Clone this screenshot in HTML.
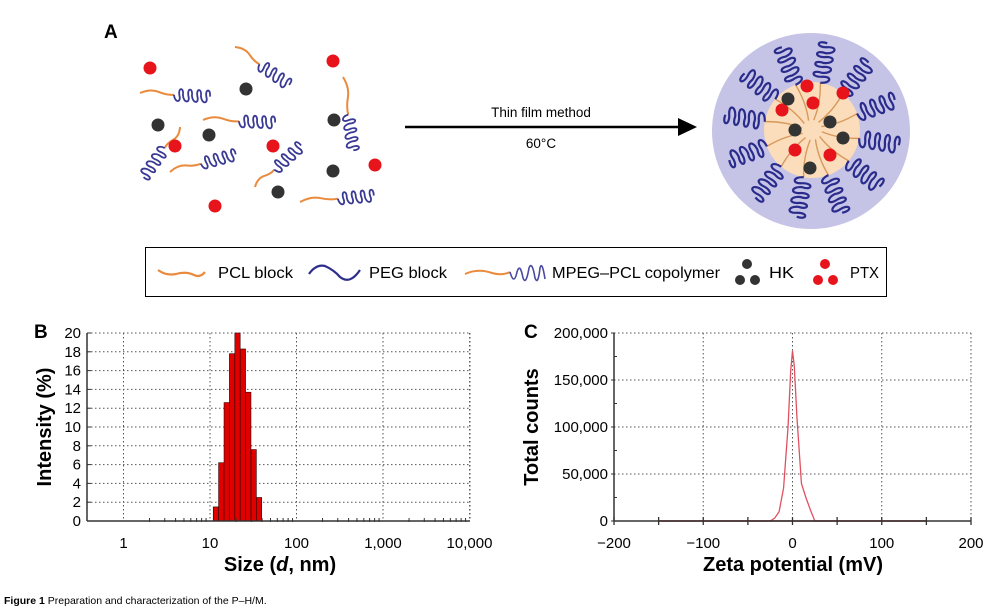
<!DOCTYPE html>
<html><head><meta charset="utf-8"><style>
body{margin:0;background:#fff;}
svg{display:block;font-family:"Liberation Sans",Arial,sans-serif;}
</style></head><body>
<svg id="fig" width="990" height="612" viewBox="0 0 990 612" xmlns="http://www.w3.org/2000/svg">
<g id="panelA">
<text x="104" y="38" font-size="19" font-weight="bold">A</text>
<g id="freeMol"></g>
<g>
<line x1="405" y1="127" x2="680" y2="127" stroke="#000" stroke-width="2.5"/>
<polygon points="678,118 697,127 678,136" fill="#000"/>
<text x="541" y="117" font-size="13.5" text-anchor="middle">Thin film method</text>
<text x="541" y="148" font-size="13.5" text-anchor="middle">60°C</text>
</g>
<g id="micelle">
<ellipse cx="811" cy="131" rx="99" ry="98" fill="#c5c3e6"/>
<circle cx="812" cy="130" r="48" fill="#fbdcbb"/>
</g>
<g>
<rect x="145.5" y="247.5" width="741" height="49" fill="#fff" stroke="#000" stroke-width="1"/>
<path d="M158 270 Q166 276 176 274 Q186 271 194 275 Q200 278 205 272" fill="none" stroke="#e98a3c" stroke-width="2.2"/>
<text x="218" y="278" font-size="16" textLength="75" lengthAdjust="spacingAndGlyphs">PCL block</text>
<path d="M309 274 Q316 264 325 266 Q334 270 340 277 Q350 285 360 270" fill="none" stroke="#2e2f8c" stroke-width="2.2"/>
<text x="369" y="278" font-size="16" textLength="78" lengthAdjust="spacingAndGlyphs">PEG block</text>
<path d="M465 274 Q478 268 492 273 Q502 276 510 272" fill="none" stroke="#e98a3c" stroke-width="2"/>
<path d="M510 272 Q514 286 517 272 Q520 262 523 278 Q526 286 529 268 Q532 260 535 278 Q538 286 540 268 Q542 260 545 279" fill="none" stroke="#4a4aa0" stroke-width="1.6"/>
<text x="552" y="278" font-size="16" textLength="168" lengthAdjust="spacingAndGlyphs">MPEG–PCL copolymer</text>
<g fill="#333"><circle cx="747" cy="264" r="5"/><circle cx="740" cy="280" r="5"/><circle cx="755" cy="280" r="5"/></g>
<text x="769" y="278" font-size="16" textLength="25" lengthAdjust="spacingAndGlyphs">HK</text>
<g fill="#e8141c"><circle cx="825" cy="264" r="5"/><circle cx="818" cy="280" r="5"/><circle cx="833" cy="280" r="5"/></g>
<text x="850" y="278" font-size="16" textLength="29" lengthAdjust="spacingAndGlyphs">PTX</text>
</g>
</g>
<g id="panelB">
<text x="34" y="338" font-size="19" font-weight="bold">B</text>
<g id="gridB"></g><g id="barsB"></g><g id="axesB"></g>
<text transform="translate(51,427) rotate(-90)" font-size="20" font-weight="bold" text-anchor="middle">Intensity (%)</text>
<text x="280" y="571" font-size="20" font-weight="bold" text-anchor="middle">Size (<tspan font-style="italic">d</tspan>, nm)</text>
</g>
<g id="panelC">
<text x="524" y="338" font-size="19" font-weight="bold">C</text>
<g id="gridC"></g><g id="lineC"></g><g id="axesC"></g>
<text transform="translate(538,427) rotate(-90)" font-size="20" font-weight="bold" text-anchor="middle">Total counts</text>
<text x="793" y="571" font-size="20" font-weight="bold" text-anchor="middle">Zeta potential (mV)</text>
</g>
<text x="4" y="604" font-size="10.5"><tspan font-weight="bold">Figure 1</tspan> Preparation and characterization of the P–H/M.</text>
</svg>
<script>
// Panel B data
const sizeBins=[11.7,13.5,15.6,18.0,20.8,24.0,27.7,32.0,36.9];
const intensity=[1.5,6.2,12.6,17.8,20,18.3,13.7,7.6,2.5];
const bTicksY=[0,2,4,6,8,10,12,14,16,18,20];
const bTicksX=[1,10,100,1000,10000];
const bTickLabels=["1","10","100","1,000","10,000"];
// Panel C data
const zetaX=[-150,-25,-20,-15,-10,-5,-2,0,2,5,10,15,20,25,150];
const zetaCounts=[0,0,3000,10000,35000,100000,160000,181000,165000,110000,40000,25000,12000,0,0];
const cTicksY=[0,50000,100000,150000,200000];
const cTickLabelsY=["0","50,000","100,000","150,000","200,000"];
const cTicksX=[-200,-100,0,100,200];
const cTickLabelsX=["\u2212200","\u2212100","0","100","200"];

const NS="http://www.w3.org/2000/svg";
function mk(tag,attrs,parent){const e=document.createElementNS(NS,tag);for(const k in attrs)e.setAttribute(k,attrs[k]);parent.appendChild(e);return e;}

// Panel B
const bL=87,bR=470,bT=333,bB=521;
const xB=v=>210+86.5*(Math.log10(v)-1);
const yB=v=>bB-(v/20)*(bB-bT);
const gB=document.getElementById('gridB'),barsB=document.getElementById('barsB'),aB=document.getElementById('axesB');
bTicksY.forEach(t=>{if(t>0){const l=mk('line',{x1:bL,x2:bR,y1:yB(t),y2:yB(t),stroke:'#555','stroke-dasharray':'1.5,2.5','stroke-width':1},gB);

}
const tx=mk('text',{x:bL-6,y:yB(t)+5,'font-size':15,'text-anchor':'end'},aB);tx.textContent=t;


mk('line',{x1:bL,x2:bL+4,y1:yB(t),y2:yB(t),stroke:'#333'},aB);});
bTicksX.forEach((t,i)=>{const l=mk('line',{x1:xB(t),x2:xB(t),y1:bT,y2:bB,stroke:'#555','stroke-dasharray':'1.5,2.5'},gB);


const tx=mk('text',{x:xB(t),y:bB+27,'font-size':15,'text-anchor':'middle'},aB);tx.textContent=bTickLabels[i];

});
for(let d=0;d<4;d++)for(let m=2;m<10;m++){const v=Math.pow(10,d)*m;mk('line',{x1:xB(v),x2:xB(v),y1:bB-3,y2:bB+1,stroke:'#333'},aB);}
mk('line',{x1:bR,x2:bR,y1:bT,y2:bB,stroke:'#555','stroke-dasharray':'1.5,2.5'},gB);
mk('line',{x1:bL,x2:bR,y1:bT,y2:bT,stroke:'#555','stroke-dasharray':'1.5,2.5'},gB);
mk('line',{x1:bL,x2:bL,y1:bT,y2:bB,stroke:'#333','stroke-width':1.5},aB);
mk('line',{x1:bL,x2:bR,y1:bB,y2:bB,stroke:'#333','stroke-width':1.5},aB);
const halfLog=0.0617/2;
sizeBins.forEach((s,i)=>{const lg=Math.log10(s);const x0=xB(Math.pow(10,lg-halfLog)),x1=xB(Math.pow(10,lg+halfLog));
const r=mk('rect',{x:x0,y:yB(intensity[i]),width:x1-x0,height:bB-yB(intensity[i]),fill:'#e00000',stroke:'#300','stroke-width':0.6},barsB);

});

// Panel C
const cL=614,cR=971,cT=333,cB=521;
const xC=v=>cL+(v+200)/400*(cR-cL);
const yC=v=>cB-v/200000*(cB-cT);
const gC=document.getElementById('gridC'),lC=document.getElementById('lineC'),aC=document.getElementById('axesC');
cTicksY.forEach((t,i)=>{if(t>0){const l=mk('line',{x1:cL,x2:cR,y1:yC(t),y2:yC(t),stroke:'#555','stroke-dasharray':'1.5,2.5'},gC);

}
const tx=mk('text',{x:cL-6,y:yC(t)+5,'font-size':15,'text-anchor':'end'},aC);tx.textContent=cTickLabelsY[i];


mk('line',{x1:cL-3,x2:cL+1,y1:yC(t),y2:yC(t),stroke:'#333'},aC);
if(t<200000)mk('line',{x1:cL,x2:cL+3,y1:yC(t+25000),y2:yC(t+25000),stroke:'#333'},aC);});
cTicksX.forEach((t,i)=>{if(t>-200){const l=mk('line',{x1:xC(t),x2:xC(t),y1:cT,y2:cB,stroke:'#555','stroke-dasharray':'1.5,2.5'},gC);

}
const tx=mk('text',{x:xC(t),y:cB+27,'font-size':15,'text-anchor':'middle'},aC);tx.textContent=cTickLabelsX[i];


mk('line',{x1:xC(t),x2:xC(t),y1:cB-4,y2:cB+4,stroke:'#333','stroke-width':1.3},aC);
if(t<200)mk('line',{x1:xC(t+50),x2:xC(t+50),y1:cB-4,y2:cB+4,stroke:'#333','stroke-width':1.3},aC);});
mk('line',{x1:cL,x2:cR,y1:cT,y2:cT,stroke:'#555','stroke-dasharray':'1.5,2.5'},gC);
mk('line',{x1:cL,x2:cL,y1:cT,y2:cB,stroke:'#333','stroke-width':1.5},aC);
mk('line',{x1:cL,x2:cR,y1:cB,y2:cB,stroke:'#333','stroke-width':1.5},aC);
const pl=mk('polyline',{points:zetaX.map((v,i)=>xC(v)+','+yC(zetaCounts[i])).join(' '),fill:'none',stroke:'#e05060','stroke-width':1.3},lC);


mk('line',{x1:xC(-150),x2:xC(150),y1:cB,y2:cB,stroke:'#8a2020','stroke-width':1.5},lC);

// Panel A molecules
const fm=document.getElementById('freeMol');
function polymer(parent,x,y,ang,L1,n,amp){const g=mk('g',{transform:`translate(${x},${y}) rotate(${ang})`},parent);


mk('path',{d:`M0 0 Q${L1*0.3} -5 ${L1*0.55} -2 Q${L1*0.8} 1 ${L1} 0`,fill:'none',stroke:'#e98a3c','stroke-width':2},g);
let d=`M${L1} 0`;let px=L1;const p=9;
for(let i=0;i<n;i++){d+=` C${px+1} ${amp} ${px+p*0.9} ${amp} ${px+p*0.6} 0 C${px+p*0.4} ${-amp} ${px+p*1.1} ${-amp} ${px+p} 0`;px+=p;}
mk('path',{d:d,fill:'none',stroke:'#3a3a95','stroke-width':1.8},g);return g;}
[[140,93,3,34,4,8],[235,47,35,30,4,8],[203,120,2,36,4,8],[180,127,126,26,4,8],[170,172,-15,32,4,8],[255,187,-42,26,4,8],[343,77,82,38,4,8],[300,202,-5,38,4,8]]
.forEach(a=>polymer(fm,...a));
[[150,68],[333,61],[175,146],[273,146],[375,165],[215,206]].forEach(c=>{const e=mk('circle',{cx:c[0],cy:c[1],r:6.5,fill:'#e8141c'},fm);

});
[[246,89],[158,125],[209,135],[334,120],[278,192],[333,171]].forEach(c=>{const e=mk('circle',{cx:c[0],cy:c[1],r:6.5,fill:'#333'},fm);

});
// micelle
const mc=document.getElementById('micelle');
for(let i=0;i<12;i++){const a=i*30+10;const g=mk('g',{transform:`translate(812,130) rotate(${a}) translate(10,0)`},mc);


mk('path',{d:'M0 0 Q18 4 38 0',fill:'none',stroke:'#d89a5c','stroke-width':1.4},g);
let d='M38 0';let px=38;for(let k=0;k<4;k++){d+=` C${px+1} 11 ${px+9} 11 ${px+6} 0 C${px+4} -11 ${px+12} -11 ${px+10} 0`;px+=10;}
mk('path',{d:d,fill:'none',stroke:'#2a2c8c','stroke-width':2.2},g);}
[[807,86],[813,103],[843,93],[782,110],[795,150],[830,155]].forEach(c=>{const e=mk('circle',{cx:c[0],cy:c[1],r:6.5,fill:'#e8141c'},mc);

});
[[788,99],[830,122],[795,130],[843,138],[810,168]].forEach(c=>{const e=mk('circle',{cx:c[0],cy:c[1],r:6.5,fill:'#333'},mc);

});
</script>
</body></html>
